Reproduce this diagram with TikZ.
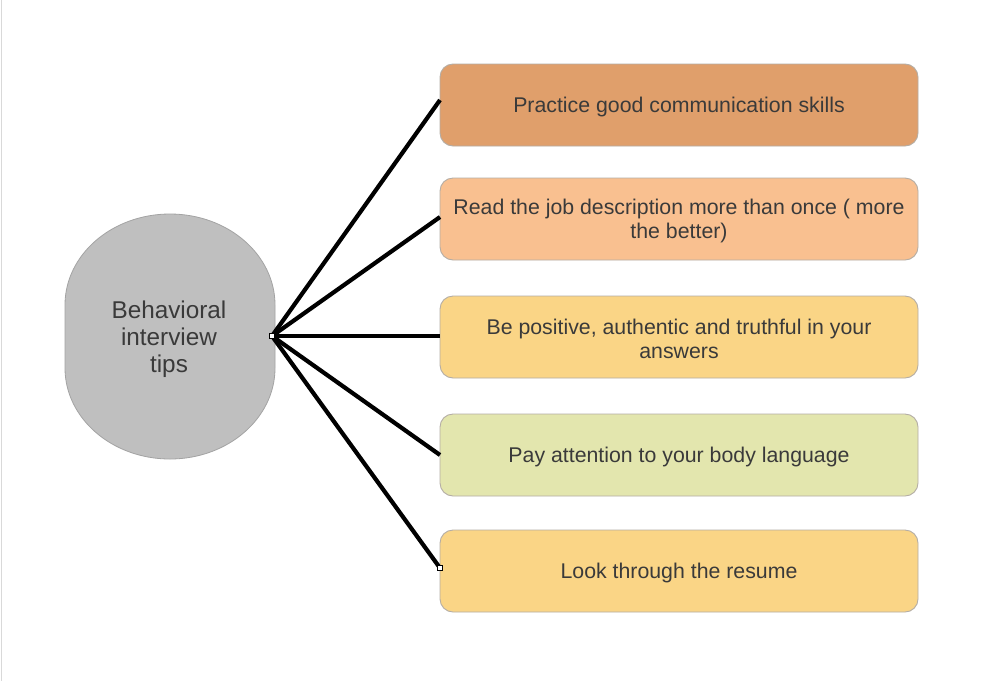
\documentclass[tikz,border=0pt]{standalone}
\usepackage{fontspec}
\setmainfont{Liberation Sans}
\definecolor{txt}{HTML}{3A3A3A}
\definecolor{bordergray}{HTML}{B4ADA5}
\definecolor{cA}{HTML}{E09F6B}
\definecolor{cB}{HTML}{F9C090}
\definecolor{cC}{HTML}{FAD586}
\definecolor{cD}{HTML}{E3E6AE}
\definecolor{cE}{HTML}{FAD586}
\definecolor{hubfill}{HTML}{BFBFBF}
\definecolor{hubline}{HTML}{A3A3A3}
\newcommand{\lowline}[1]{\raisebox{-1pt}[\dimexpr\height+1pt\relax][\dimexpr\depth-1pt\relax]{#1}}
\begin{document}
\begin{tikzpicture}[x=1pt,y=-1pt,
  tipbox/.style={draw=bordergray, line width=0.9pt, rounded corners=13pt,
    minimum width=478pt, minimum height=82pt, inner sep=0pt, text=txt,
    align=center, font=\fontsize{21.3}{24}\selectfont},
  link/.style={line width=4.2pt, black},
  handle/.style={draw=black, fill=white, line width=0.7pt, minimum size=5pt, inner sep=0pt, rectangle}
]
\useasboundingbox (0,0) rectangle (981,681);
\fill[white] (0,0) rectangle (981,681);
\draw[color=black!15, line width=1.5pt] (1.5,0) -- (1.5,681);

% central shape
\filldraw[fill=hubfill, draw=hubline, line width=0.8pt]
  (65,305) arc[start angle=180, end angle=0, x radius=105, y radius=-91]
  -- (275,368) arc[start angle=0, end angle=-180, x radius=105, y radius=-91] -- cycle;
\node[text=txt, align=center, font=\fontsize{24.3}{27}\selectfont] (center) at (169,339) {Behavioral\\interview\\tips};

% boxes (centres)
\node[tipbox, fill=cA] (b1) at (679,105) {\lowline{Practice good communication skills}};
\node[tipbox, fill=cB] (b2) at (679,219) {\lowline{Read the job description more than once ( more}\\\lowline{the better)}};
\node[tipbox, fill=cC] (b3) at (679,337) {\lowline{Be positive, authentic and truthful in your}\\\lowline{answers}};
\node[tipbox, fill=cD] (b4) at (679,455) {\lowline{Pay attention to your body language}};
\node[tipbox, fill=cE] (b5) at (679,571) {\lowline{Look through the resume}};

\coordinate (hub) at (272,336);
\coordinate (e1) at (440,100);
\coordinate (e2) at (440,217);
\coordinate (e3) at (440,336);
\coordinate (e4) at (440,455);
\coordinate (e5) at (440,568);

\foreach \e in {e1,e2,e3,e4,e5} \draw[link] (hub) -- (\e);

\node[handle] (h0) at (hub) {};
\node[handle] (h5) at (e5) {};
\end{tikzpicture}
\end{document}
